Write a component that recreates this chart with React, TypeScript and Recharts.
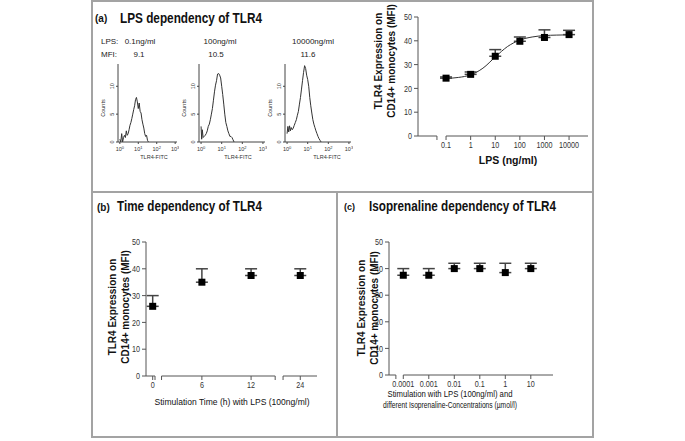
import React from 'react';
import {
  ComposedChart,
  LineChart,
  Line,
  Scatter,
  XAxis,
  YAxis,
  ErrorBar,
  ReferenceLine,
} from 'recharts';

const FONT = '"Liberation Sans", Arial, Helvetica, sans-serif';

// (a) flow cytometry histograms
const histLps = ['0.1ng/ml', '100ng/ml', '10000ng/ml'];
const histMfi = ['9.1', '10.5', '11.6'];

const hist1X = [0, 0.05, 0.1, 0.15, 0.2, 0.25, 0.3, 0.35, 0.4, 0.45, 0.5, 0.55, 0.6, 0.65, 0.7, 0.75, 0.8, 0.85, 0.9, 0.95, 1.0, 1.05, 1.1, 1.15, 1.2, 1.25, 1.3, 1.35, 1.4, 1.45, 1.5, 1.55];
const hist1Counts = [0.5, 0, 1.5, 0, 0.8, 1.2, 0.8, 2.0, 1.2, 1.5, 2.2, 3.0, 3.5, 4.2, 5.0, 5.8, 6.5, 7.6, 8.0, 7.2, 6.0, 7.0, 5.5, 5.2, 4.0, 3.2, 2.5, 1.5, 1.0, 1.2, 0.3, 0];

const hist2X = [0, 0.03, 0.06, 0.1, 0.15, 0.2, 0.25, 0.3, 0.35, 0.4, 0.45, 0.5, 0.55, 0.6, 0.65, 0.7, 0.75, 0.8, 0.85, 0.9, 0.95, 1.0, 1.05, 1.1, 1.15, 1.2, 1.25, 1.3, 1.35, 1.4, 1.45, 1.5, 1.55, 1.6];
const hist2Counts = [2.8, 0.5, 2.2, 0.8, 1.0, 1.2, 1.5, 2.0, 2.8, 3.2, 4.0, 5.0, 6.0, 7.5, 9.0, 10.2, 11.0, 12.2, 12.3, 12.0, 11.5, 10.0, 8.5, 6.8, 5.0, 3.5, 2.8, 2.0, 1.5, 1.0, 1.0, 0.8, 0.4, 0];

const hist3X = [0, 0.04, 0.08, 0.12, 0.16, 0.2, 0.25, 0.3, 0.35, 0.4, 0.45, 0.5, 0.55, 0.6, 0.65, 0.7, 0.75, 0.8, 0.85, 0.9, 0.95, 1.0, 1.05, 1.1, 1.15, 1.2, 1.25, 1.3, 1.35, 1.4, 1.45, 1.5, 1.55, 1.6, 1.65];
const hist3Counts = [1.5, 2.8, 1.8, 2.9, 2.0, 2.6, 2.2, 2.5, 3.0, 3.5, 4.0, 4.8, 5.5, 6.8, 8.0, 9.5, 11.0, 12.5, 13.7, 13.2, 12.0, 11.2, 10.0, 8.0, 6.5, 5.2, 4.0, 3.2, 2.6, 2.0, 1.5, 1.0, 0.6, 0.3, 0];

// (a) LPS dose response (log10 ng/ml)
const lpsLog = [-1, 0, 1, 2, 3, 4];
const lpsLabels = ['0.1', '1', '10', '100', '1000', '10000'];
const lpsMfi = [24.3, 25.9, 33.5, 39.8, 41.4, 42.6];
const lpsErr = [0.5, 1.0, 2.8, 1.8, 3.2, 1.8];
const lpsFitLog = [-1, -0.5, 0, 0.5, 1, 1.5, 2, 2.5, 3, 3.5, 4];
const lpsFitMfi = [24.2, 24.6, 25.7, 28.5, 33.2, 37.6, 40.3, 41.6, 42.2, 42.4, 42.5];

// (b) time dependency
const timeLabels = ['0', '6', '12', '24'];
const timeMfi = [26, 35, 37.5, 37.5];
const timeErr = [4, 5, 2.5, 2.5];

// (c) isoprenaline dependency (log10 µmol/l)
const isoLog = [-4, -3, -2, -1, 0, 1];
const isoLabels = ['0.0001', '0.001', '0.01', '0.1', '1', '10'];
const isoMfi = [37.5, 37.5, 40, 40, 38.5, 40];
const isoErr = [2.5, 2.5, 2, 2, 3.5, 2];

const mfiTicks = [0, 10, 20, 30, 40, 50];

const AXIS = '#555';
const TICK_FS = 9;

// tick labels in the original are a narrow face; squeeze Liberation Sans to match
const narrowWidth = (s: string) =>
  s.split('').reduce((w, ch) => w + (ch === '.' ? 0.278 : 0.556), 0) * TICK_FS * 0.8;

const XTick = (props: any) => {
  const { x, y, payload, tickFormatter, index } = props;
  const label = tickFormatter ? tickFormatter(payload.value, index) : String(payload.value);
  if (!label) return null;
  return (
    <text x={x} y={y} dy="0.71em" fontSize={TICK_FS} fill="#333" textAnchor="middle" textLength={narrowWidth(label)} lengthAdjust="spacingAndGlyphs">
      {label}
    </text>
  );
};

const YTick = (props: any) => {
  const { x, y, payload } = props;
  const label = String(payload.value);
  return (
    <text x={x} y={y} dy="0.355em" fontSize={TICK_FS} fill="#333" textAnchor="end" textLength={narrowWidth(label)} lengthAdjust="spacingAndGlyphs">
      {label}
    </text>
  );
};

const Square = (props: any) => {
  const { cx, cy } = props;
  if (cx == null || cy == null) return null;
  return <rect x={cx - 3.5} y={cy - 3.5} width={7} height={7} fill="#000" />;
};

const PowerTick = (props: any) => {
  const { x, y, payload } = props;
  return (
    <text x={x} y={y + 5} fontSize={5.5} fill="#333" textAnchor="middle">
      10<tspan dy={-2} fontSize={4}>{payload.value}</tspan>
    </text>
  );
};

const RotTick = (props: any) => {
  const { x, y, payload } = props;
  return (
    <text x={x} y={y} fontSize={5.5} fill="#333" textAnchor="middle" transform={`rotate(-90 ${x} ${y})`}>
      {payload.value}
    </text>
  );
};

function Histogram({ axisX, plotRight, xs, counts }: { axisX: number; plotRight: number; xs: number[]; counts: number[] }) {
  const data = xs.map((v, i) => ({ x: v, c: counts[i] }));
  const left = axisX - 18;
  return (
    <div style={{ position: 'absolute', left, top: 58 }}>
      <LineChart width={plotRight - left + 2} height={104} data={data} margin={{ top: 6, right: 2, bottom: 6, left: 8 }}>
        <XAxis type="number" dataKey="x" domain={[-0.1, 3.1]} ticks={[0, 1, 2, 3]} interval={0} tick={<PowerTick />} tickSize={2} height={14} stroke="#444" allowDataOverflow />
        <YAxis type="number" domain={[0, 14]} ticks={[0, 5, 10]} interval={0} tick={<RotTick />} tickSize={2} width={10} stroke="#444" />
        <Line dataKey="c" type="linear" stroke="#333" strokeWidth={1} dot={false} isAnimationActive={false} />
      </LineChart>
    </div>
  );
}

const labelFrom = (values: number[], labels: string[]) => (v: number) => {
  const i = values.indexOf(v);
  return i >= 0 ? labels[i] : '';
};

function Segment({ from, to }: { from: number; to: number }) {
  return <ReferenceLine segment={[{ x: from, y: 0 }, { x: to, y: 0 }]} stroke={AXIS} ifOverflow="visible" />;
}

function YLabel({ x1, x2, cy, size = 10 }: { x1: number; x2: number; cy: number; size?: number }) {
  return (
    <g fontWeight="bold" fontSize={size} fill="#111" textAnchor="middle">
      <text x={x1} y={cy} dominantBaseline="central" transform={`rotate(-90 ${x1} ${cy})`}>TLR4 Expression on</text>
      <text x={x2} y={cy} dominantBaseline="central" transform={`rotate(-90 ${x2} ${cy})`}>CD14+ monocytes (MFI)</text>
    </g>
  );
}

export default function App() {
  const lpsPoints = lpsLog.map((x, i) => ({ x, y: lpsMfi[i], err: [0, lpsErr[i]] }));
  const lpsFit = lpsFitLog.map((x, i) => ({ x, y: lpsFitMfi[i] }));
  const timePoints = timeLabels.map((_, i) => ({ x: i, y: timeMfi[i], err: [0, timeErr[i]] }));
  const isoPoints = isoLog.map((x, i) => ({ x, y: isoMfi[i], err: [0, isoErr[i]] }));
  const timeIdx = timeLabels.map((_, i) => i);

  return (
    <div style={{ position: 'absolute', left: 0, top: 0, width: 685, height: 441, background: '#fff', fontFamily: FONT, overflow: 'hidden' }}>
      {/* panel frame */}
      <div style={{ position: 'absolute', left: 91, top: 0, width: 503, height: 438, border: '2px solid #a3a3a3', boxSizing: 'border-box' }} />
      <div style={{ position: 'absolute', left: 91, top: 191, width: 503, height: 2, background: '#a3a3a3' }} />
      <div style={{ position: 'absolute', left: 336, top: 192, width: 2, height: 245, background: '#a3a3a3' }} />

      <Histogram axisX={118} plotRight={177} xs={hist1X} counts={hist1Counts} />
      <Histogram axisX={199} plotRight={265} xs={hist2X} counts={hist2Counts} />
      <Histogram axisX={285} plotRight={351} xs={hist3X} counts={hist3Counts} />

      {/* (a) dose response */}
      <div style={{ position: 'absolute', left: 340, top: 0 }}>
        <ComposedChart width={253} height={192} margin={{ top: 17, right: 5, bottom: 26, left: 48 }}>
          <XAxis type="number" dataKey="x" domain={[-2.14, 4.77]} ticks={[-1.37, ...lpsLog]} tickFormatter={labelFrom(lpsLog, lpsLabels)} interval={0} axisLine={false} tickLine={{ stroke: AXIS }} tickSize={4} height={30} tick={<XTick />} allowDataOverflow />
          <YAxis type="number" dataKey="y" domain={[0, 50]} ticks={mfiTicks} interval={0} width={30} tickSize={4} stroke={AXIS} tick={<YTick />} />
          <Segment from={-2.14} to={-1.37} />
          <Segment from={-1} to={4.77} />
          <Line data={lpsFit} dataKey="y" type="monotone" stroke="#333" strokeWidth={1} dot={false} isAnimationActive={false} />
          <Scatter data={lpsPoints} shape={<Square />} isAnimationActive={false}>
            <ErrorBar dataKey="err" direction="y" width={6} stroke="#444" />
          </Scatter>
        </ComposedChart>
      </div>

      {/* (b) time dependency */}
      <div style={{ position: 'absolute', left: 93, top: 193 }}>
        <ComposedChart width={243} height={243} margin={{ top: 49, right: 19, bottom: 29, left: 25 }}>
          <XAxis type="number" dataKey="x" domain={[-0.136, 3.34]} ticks={[...timeIdx, 0.047, 0.18, 2.49, 2.65]} tickFormatter={labelFrom(timeIdx, timeLabels)} interval={0} axisLine={false} tickLine={{ stroke: AXIS }} tickSize={4} height={31} tick={<XTick />} allowDataOverflow />
          <YAxis type="number" dataKey="y" domain={[0, 50]} ticks={mfiTicks} interval={0} width={28} tickSize={4} stroke={AXIS} tick={<YTick />} />
          <Segment from={-0.136} to={0.047} />
          <Segment from={0.18} to={2.49} />
          <Segment from={2.65} to={3.34} />
          <Scatter data={timePoints} shape={<Square />} isAnimationActive={false}>
            <ErrorBar dataKey="err" direction="y" width={6} stroke="#444" />
          </Scatter>
        </ComposedChart>
      </div>

      {/* (c) isoprenaline dependency */}
      <div style={{ position: 'absolute', left: 338, top: 193 }}>
        <ComposedChart width={254} height={243} margin={{ top: 49, right: 39, bottom: 30, left: 23 }}>
          <XAxis type="number" dataKey="x" domain={[-4.56, 1.87]} ticks={[-4.29, ...isoLog]} tickFormatter={labelFrom(isoLog, isoLabels)} interval={0} axisLine={false} tickLine={{ stroke: AXIS }} tickSize={4} height={31} tick={<XTick />} allowDataOverflow />
          <YAxis type="number" dataKey="y" domain={[0, 50]} ticks={mfiTicks} interval={0} width={28} tickSize={4} stroke={AXIS} tick={<YTick />} />
          <Segment from={-4.56} to={-4.29} />
          <Segment from={-4} to={1.87} />
          <Scatter data={isoPoints} shape={<Square />} isAnimationActive={false}>
            <ErrorBar dataKey="err" direction="y" width={6} stroke="#444" />
          </Scatter>
        </ComposedChart>
      </div>

      {/* text overlay */}
      <svg width={685} height={441} style={{ position: 'absolute', left: 0, top: 0, pointerEvents: 'none' }} fontFamily={FONT}>
        <g fontWeight="bold" fill="#111">
          <text x={95} y={22} fontSize={10}>(a)</text>
          <text x={120} y={23} fontSize={14} textLength={142} lengthAdjust="spacingAndGlyphs">LPS dependency of TLR4</text>
          <text x={97} y={211} fontSize={10}>(b)</text>
          <text x={117} y={211} fontSize={14} textLength={145} lengthAdjust="spacingAndGlyphs">Time dependency of TLR4</text>
          <text x={344} y={210} fontSize={9}>(c)</text>
          <text x={369} y={211} fontSize={14} textLength={187} lengthAdjust="spacingAndGlyphs">Isoprenaline dependency of TLR4</text>
        </g>

        <g fontSize={8} fill="#222">
          <text x={101} y={44}>LPS:</text>
          <text x={101} y={57}>MFI:</text>
          {histLps.map((t, i) => (
            <text key={t} x={[140, 220, 313][i]} y={44} textAnchor="middle">{t}</text>
          ))}
          {histMfi.map((t, i) => (
            <text key={t} x={[139, 216, 308][i]} y={57} textAnchor="middle">{t}</text>
          ))}
        </g>
        <g fontSize={5.5} fill="#333" textAnchor="middle">
          {[105, 186, 272].map((x) => (
            <text key={x} x={x} y={108} transform={`rotate(-90 ${x} 108)`}>Counts</text>
          ))}
          {[154, 238, 327].map((x) => (
            <text key={x} x={x} y={159}>TLR4-FITC</text>
          ))}
        </g>

        <YLabel x1={378} x2={391} cy={61} />
        <text x={508} y={164} fontSize={10.5} fontWeight="bold" fill="#111" textAnchor="middle">LPS (ng/ml)</text>

        <YLabel x1={112} x2={125} cy={307} />
        <text x={232} y={405} fontSize={9.5} fill="#111" textAnchor="middle" textLength={155} lengthAdjust="spacingAndGlyphs">Stimulation Time (h) with LPS  (100ng/ml)</text>

        <YLabel x1={361} x2={374} cy={308} />
        <text x={450} y={397} fontSize={9.5} fill="#111" textAnchor="middle" textLength={125} lengthAdjust="spacingAndGlyphs">Stimulation with LPS (100ng/ml) and</text>
        <text x={450} y={408} fontSize={9.5} fill="#111" textAnchor="middle" textLength={134} lengthAdjust="spacingAndGlyphs">different Isoprenaline-Concentrations (µmol/l)</text>
      </svg>
    </div>
  );
}
